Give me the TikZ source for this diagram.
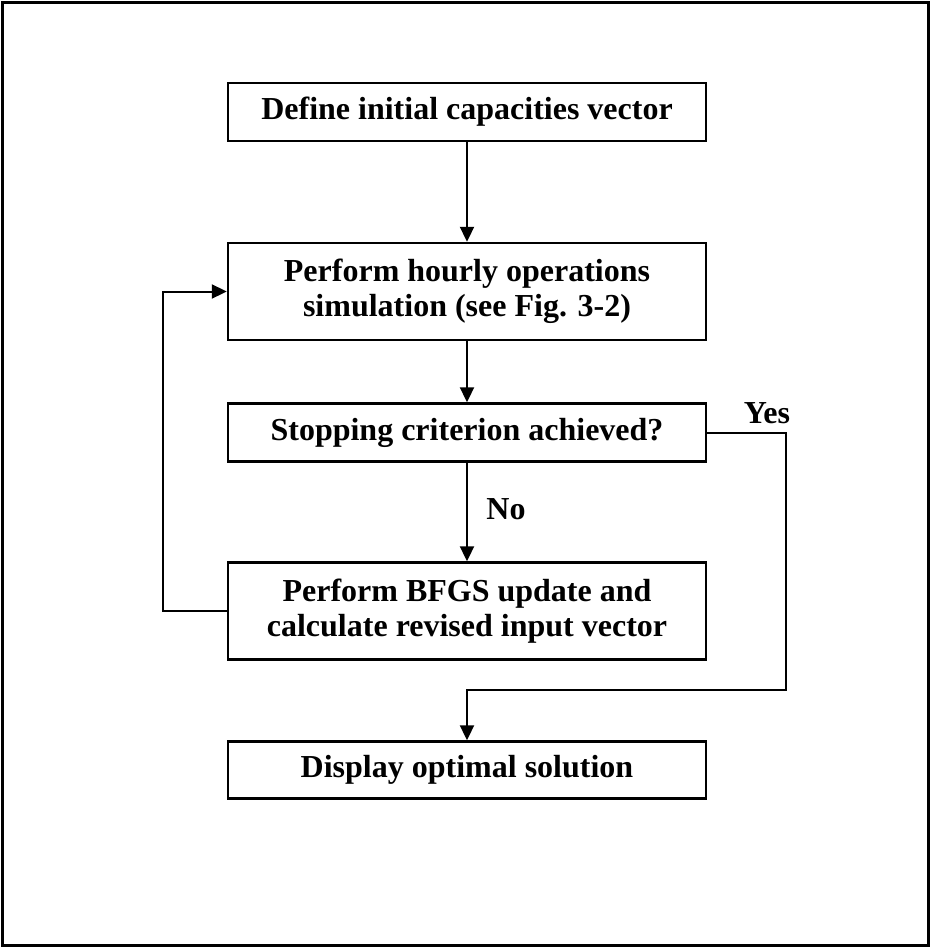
\documentclass[tikz,border=0pt]{standalone}
\usepackage{fontspec}
\setmainfont{Liberation Serif}
\usetikzlibrary{arrows.meta}

\tikzset{
  stepbox/.style={draw, line width=2.4pt, minimum width=478pt, inner sep=0pt,
    align=center, font=\fontsize{32}{35}\selectfont\bfseries},
  flow/.style={line width=2pt, -{Triangle[length=15pt,width=14pt]}},
  answer/.style={font=\fontsize{32}{35}\selectfont\bfseries}
}

\begin{document}
\begin{tikzpicture}[x=1pt,y=-1pt]
\useasboundingbox (0,0) rectangle (931,948);
\draw[line width=3pt] (2.5,2.5) rectangle (928.5,945.5);

\node[stepbox, minimum height=58pt] (define) at (467,112) {Define initial capacities vector};
\node[stepbox, minimum height=97pt] (simulate) at (467,291.5) {Perform hourly operations\\simulation (see Fig. 3-2)};
\node[stepbox, minimum height=58pt] (stop) at (467,432.5) {Stopping criterion achieved?};
\node[stepbox, minimum height=97pt] (update) at (467,611) {Perform BFGS update and\\calculate revised input vector};
\node[stepbox, minimum height=57pt] (display) at (467,770) {Display optimal solution};

\coordinate (turn) at (467,690);

\draw[flow] (define) -- (simulate);
\draw[flow] (simulate) -- (stop);
\draw[flow] (stop) -- (update);
\draw[flow] (update.west) -- ++(-64,0) |- (simulate.west);
\draw[flow] (stop.east) -- ++(79,0) |- (turn) -- (display);

\node[answer] (yes) at (767,413) {Yes};
\node[answer] (no) at (506,509) {No};

\end{tikzpicture}
\end{document}
